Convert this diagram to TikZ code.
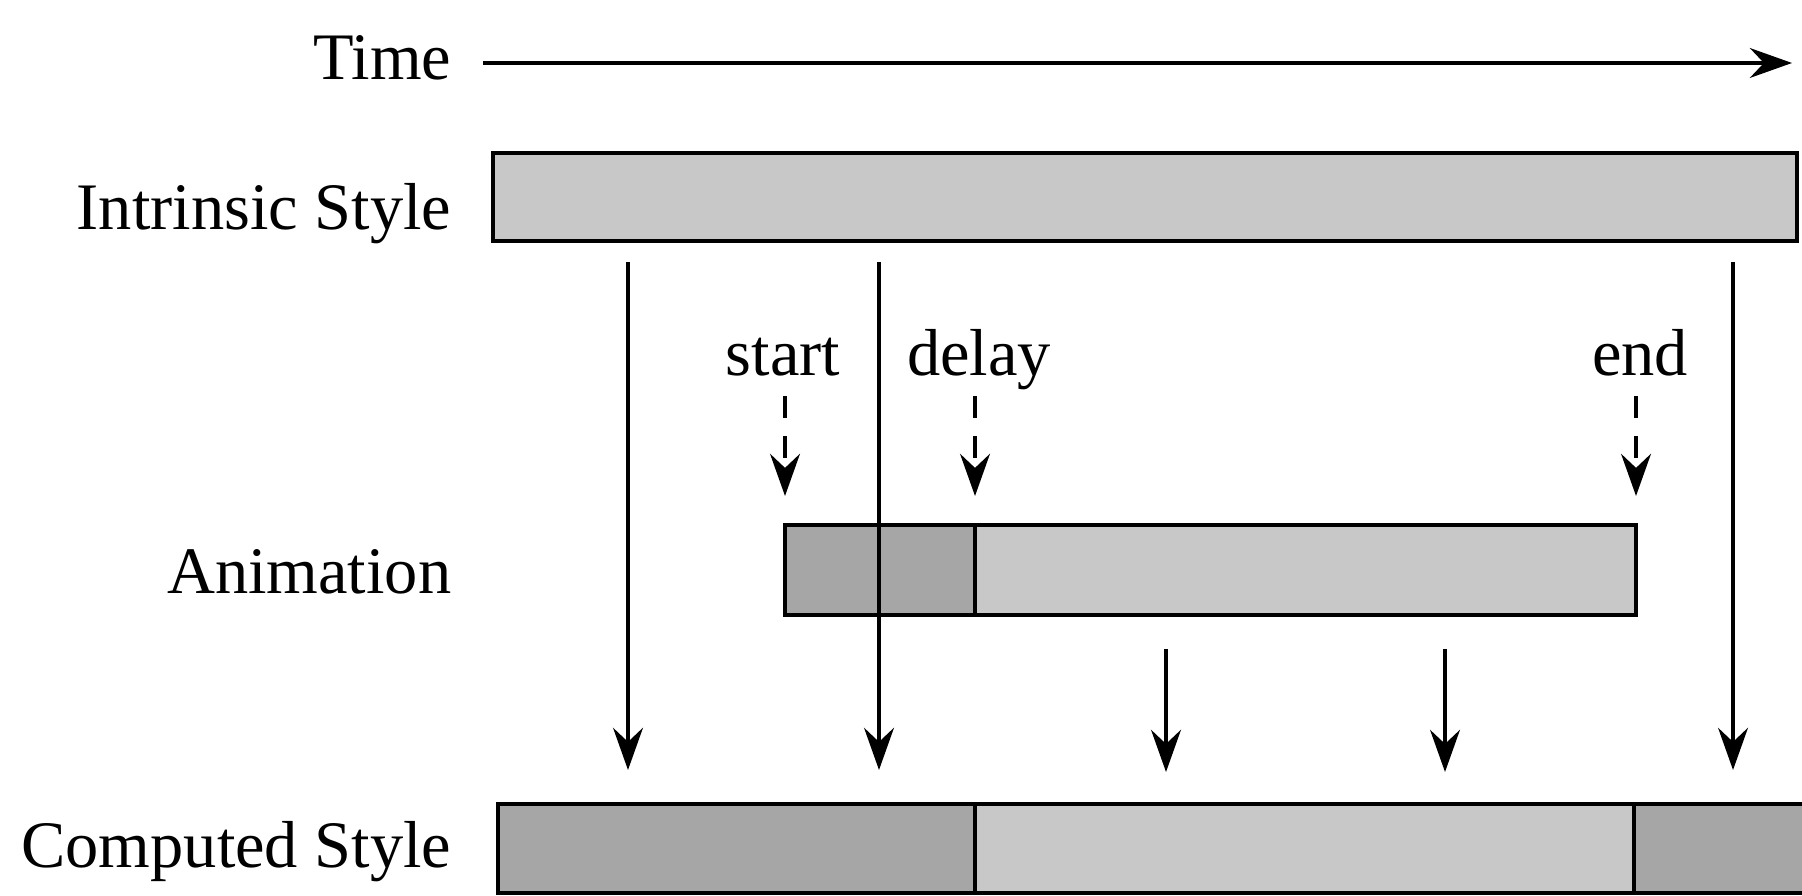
\documentclass[tikz,border=0pt]{standalone}
\usepackage{fontspec}
\setmainfont{Liberation Serif}
\usetikzlibrary{arrows.meta,positioning}
\definecolor{barlight}{RGB}{200,200,200}
\definecolor{bardark}{RGB}{166,166,166}

\begin{document}
\begin{tikzpicture}[
    lbl/.style={font=\fontsize{18.9}{22}\selectfont, inner sep=0pt, anchor=base east},
    tick/.style={font=\fontsize{18.9}{22}\selectfont, inner sep=0pt, anchor=base},
    bar/.style={draw, line width=1.1pt, inner sep=0pt, outer sep=0pt, anchor=north west, minimum height=0.89cm},
    arr/.style={-{Stealth[length=12pt,width=8.5pt,inset=4pt]}, line width=0.95pt},
    dasharr/.style={arr, dash pattern=on 0.22cm off 0.18cm}
  ]
  \useasboundingbox (0,0) rectangle (18.02,8.95);
  \clip (0,0) rectangle (18.02,8.95);

  % row labels
  \node[lbl] (time)  at (4.52,8.15) {Time};
  \node[lbl] (intrL) at (4.52,6.65) {Intrinsic Style};
  \node[lbl] (animL) at (4.52,3.01) {Animation};
  \node[lbl] (compL) at (4.52,0.28) {Computed Style};

  % time axis
  \coordinate (timeStart) at (4.83,8.32);
  \coordinate (timeEnd) at (17.92,8.32);
  \draw[arr] (timeStart) -- (timeEnd);

  % bars
  \node[bar, fill=barlight, minimum width=13.04cm, minimum height=0.88cm] (intr) at (4.93,7.42) {};
  \node[bar, fill=bardark, minimum width=1.90cm, minimum height=0.90cm] (animDelay) at (7.85,3.70) {};
  \node[bar, fill=barlight, minimum width=6.61cm, minimum height=0.90cm, right=0cm of animDelay] (animRun) {};
  \node[bar, fill=bardark, minimum width=4.77cm] (compA) at (4.98,0.91) {};
  \node[bar, fill=barlight, minimum width=6.59cm, right=0cm of compA] (compB) {};
  \node[bar, fill=bardark, minimum width=2cm, right=0cm of compB] (compC) {};

  % animation markers
  \node[tick] (startLbl) at (7.83,5.19) {start};
  \node[tick] (delayLbl) at (9.79,5.19) {delay};
  \node[tick] (endLbl)   at (16.40,5.19) {end};
  \draw[dasharr] ([yshift=1.29cm]animDelay.north west) -- ([yshift=0.29cm]animDelay.north west);
  \draw[dasharr] ([yshift=1.29cm]animDelay.north east) -- ([yshift=0.29cm]animDelay.north east);
  \draw[dasharr] ([yshift=1.29cm]animRun.north east) -- ([yshift=0.29cm]animRun.north east);

  % values into computed style
  \foreach \x in {6.28,8.79,17.33}
    \draw[arr] ([yshift=-0.21cm]intr.south -| \x,0) -- ([yshift=0.34cm]compA.north -| \x,0);
  \foreach \x in {11.66,14.45}
    \draw[arr] ([yshift=-0.34cm]animRun.south -| \x,0) -- ([yshift=0.32cm]compB.north -| \x,0);
\end{tikzpicture}
\end{document}
